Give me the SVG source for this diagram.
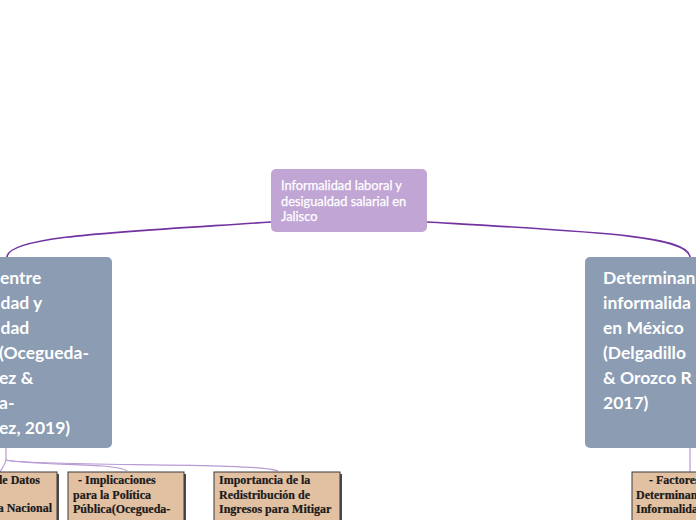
<svg xmlns="http://www.w3.org/2000/svg" width="696" height="520" viewBox="0 0 696 520">
<defs>
<style>
.main{fill:#8b9cb3}
.mainText{font-family:Lato,"Noto Sans",sans-serif;font-weight:bold;font-size:17.5px;fill:#ffffff}
.rootText{font-family:Lato,"Open Sans",sans-serif;font-size:12.8px;fill:#ffffff;stroke:#ffffff;stroke-width:0.25}
.sub{fill:#e2c0a2;stroke:#3a3a3a;stroke-width:1}
.shadow{fill:#4a4a4a}
.subText{font-family:"Liberation Serif",serif;font-weight:bold;font-size:12px;fill:#1a1a1a;stroke:#1a1a1a;stroke-width:0.2}
.c1{fill:none;stroke:#7333a0;stroke-width:1.6}
.c2{fill:none;stroke:#b89ad4;stroke-width:1.2}
</style>
</defs>
<rect width="696" height="520" fill="#ffffff"/>
<g id="connectors">
<path class="c1" d="M271 222 C120 232 8 236 7 257"/>
<path class="c1" d="M427 222 C600 232 688 236 690 257"/>
<path class="c2" d="M6 448 L6 460"/>
<path class="c2" d="M6 460 C5 465 2 468 0 472"/>
<path class="c2" d="M6 460 C30 466 115 462 127 471"/>
<path class="c2" d="M6 460 C40 467 260 462 278 471"/>
<path class="c2" d="M690 448 L690 472"/>
</g>
<g id="root">
<rect x="271" y="169" width="156" height="63" rx="5" fill="#c1a6d5"/>
<text class="rootText" x="281" y="190">Informalidad laboral y</text>
<text class="rootText" x="281" y="206">desigualdad salarial en</text>
<text class="rootText" x="281" y="221">Jalisco</text>
</g>
<g id="node-left">
<rect x="-60" y="257" width="172" height="191" rx="5" class="main"/>
<text class="mainText" x="0" y="284">entre</text>
<text class="mainText" x="-4" y="309">idad y</text>
<text class="mainText" x="-4" y="334">idad</text>
<text class="mainText" x="-1" y="359">(Ocegueda-</text>
<text class="mainText" x="-1" y="384">ez &amp;</text>
<text class="mainText" x="-1" y="409">a-</text>
<text class="mainText" x="-1" y="434">ez, 2019)</text>
</g>
<g id="node-right">
<rect x="585" y="257" width="172" height="191" rx="5" class="main"/>
<text class="mainText" x="603" y="284">Determinan</text>
<text class="mainText" x="603" y="309">informalida</text>
<text class="mainText" x="603" y="334">en México</text>
<text class="mainText" x="603" y="359">(Delgadillo</text>
<text class="mainText" x="603" y="384">&amp; Orozco R</text>
<text class="mainText" x="603" y="409">2017)</text>
</g>
<g id="sub-1">
<rect x="-60" y="474" width="119" height="60" class="shadow"/>
<rect x="-62" y="472" width="119" height="60" class="sub"/>
<text class="subText" x="40" y="484" text-anchor="end">le Datos</text>
<text class="subText" x="52" y="512" text-anchor="end">a Nacional</text>
</g>
<g id="sub-2">
<rect x="70" y="474" width="116" height="60" class="shadow"/>
<rect x="68" y="472" width="116" height="60" class="sub"/>
<text class="subText" x="78" y="484">- Implicaciones</text>
<text class="subText" x="73" y="498.5">para la Política</text>
<text class="subText" x="73" y="513">Pública(Ocegueda-</text>
</g>
<g id="sub-3">
<rect x="216" y="474" width="126" height="60" class="shadow"/>
<rect x="214" y="472" width="126" height="60" class="sub"/>
<text class="subText" x="219" y="484">Importancia de la</text>
<text class="subText" x="219" y="498.5">Redistribución de</text>
<text class="subText" x="219" y="513">Ingresos para Mitigar</text>
</g>
<g id="sub-4">
<rect x="634" y="474" width="126" height="60" class="shadow"/>
<rect x="632" y="472" width="126" height="60" class="sub"/>
<text class="subText" x="649" y="484">- Factores</text>
<text class="subText" x="636" y="498.5">Determinantes</text>
<text class="subText" x="636" y="513">Informalidad</text>
</g>
</svg>
